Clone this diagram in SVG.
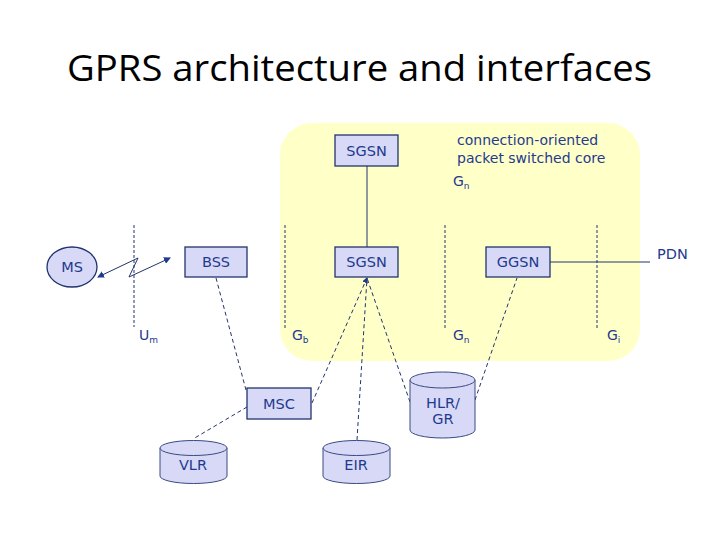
<svg xmlns="http://www.w3.org/2000/svg" width="720" height="540" viewBox="0 0 720 540">
<defs>
<style>
.title{font-family:"Open Sans","Liberation Sans",sans-serif;font-size:37px;fill:#000}
.lbl{font-family:"DejaVu Sans",Verdana,sans-serif;font-size:14px;fill:#1f3a8f}
.nm{font-size:14.5px}
.box{fill:#d8d9f6;stroke:#22336e;stroke-width:1.3}
.cyl{fill:#d8d9f6;stroke:#3a4a80;stroke-width:1}
.dash{stroke:#22336e;stroke-width:1;stroke-dasharray:4,3;fill:none}
.sep{stroke:#22336e;stroke-width:1;stroke-dasharray:3,2;fill:none}
.solid{stroke:#22336e;stroke-width:1;fill:none}
.sub{font-size:9px}
</style>
<marker id="ah" markerWidth="7" markerHeight="7" refX="6" refY="3.5" orient="auto" markerUnits="userSpaceOnUse">
<path d="M0,0 L7,3.5 L0,7 z" fill="#1f3a8f"/>
</marker>
<marker id="ahs" markerWidth="6" markerHeight="6" refX="5" refY="3" orient="auto" markerUnits="userSpaceOnUse">
<path d="M0,0 L6,3 L0,6 z" fill="#1f3a8f"/>
</marker>
</defs>
<rect width="720" height="540" fill="#fff"/>
<text class="title" x="67" y="81" textLength="585" lengthAdjust="spacingAndGlyphs">GPRS architecture and interfaces</text>

<g id="core">
<rect x="280" y="123" width="360" height="238" rx="32" fill="#ffffc8"/>
<text class="lbl" x="457" y="145">connection-oriented</text>
<text class="lbl" x="457" y="163">packet switched core</text>
</g>

<g id="separators">
<line class="sep" x1="134" y1="225" x2="134" y2="327"/>
<line class="sep" x1="285" y1="225" x2="285" y2="328"/>
<line class="sep" x1="445" y1="225" x2="445" y2="328"/>
<line class="sep" x1="597" y1="225" x2="597" y2="328"/>
<text class="lbl" x="139" y="340">U<tspan class="sub" dy="3">m</tspan></text>
<text class="lbl" x="292" y="340">G<tspan class="sub" dy="3">b</tspan></text>
<text class="lbl" x="453" y="340">G<tspan class="sub" dy="3">n</tspan></text>
<text class="lbl" x="607" y="340">G<tspan class="sub" dy="3">i</tspan></text>
<text class="lbl" x="453" y="186">G<tspan class="sub" dy="3">n</tspan></text>
</g>

<g id="connectors">
<line class="solid" x1="367" y1="166" x2="367" y2="247"/>
<line class="solid" x1="550" y1="262" x2="650" y2="262"/>
<polyline class="solid" points="138,258 129,277 170,258" marker-end="url(#ah)"/>
<line class="solid" x1="138" y1="258" x2="98" y2="277" marker-end="url(#ah)"/>
<line class="dash" x1="216" y1="278" x2="246" y2="390"/>
<line class="dash" x1="312" y1="403" x2="367" y2="278" marker-end="url(#ahs)"/>
<line class="dash" x1="357" y1="440" x2="367" y2="278"/>
<line class="dash" x1="410" y1="402" x2="367" y2="278"/>
<line class="dash" x1="475" y1="400" x2="517" y2="278"/>
<line class="dash" x1="247" y1="407" x2="193" y2="439"/>
</g>

<g id="MS">
<ellipse class="box" cx="72" cy="267" rx="25" ry="20"/>
<text class="lbl nm" x="72" y="272" text-anchor="middle">MS</text>
</g>
<g id="BSS">
<rect class="box" x="185" y="247" width="62" height="30"/>
<text class="lbl nm" x="216" y="267" text-anchor="middle">BSS</text>
</g>
<g id="SGSN1">
<rect class="box" x="335" y="135" width="63" height="31"/>
<text class="lbl nm" x="366.5" y="156" text-anchor="middle">SGSN</text>
</g>
<g id="SGSN2">
<rect class="box" x="335" y="247" width="63" height="30"/>
<text class="lbl nm" x="366.5" y="267" text-anchor="middle">SGSN</text>
</g>
<g id="GGSN">
<rect class="box" x="486" y="247" width="64" height="30"/>
<text class="lbl nm" x="518" y="267" text-anchor="middle">GGSN</text>
</g>
<g id="PDN">
<text class="lbl nm" x="657" y="259">PDN</text>
</g>
<g id="MSC">
<rect class="box" x="247" y="388" width="64" height="31"/>
<text class="lbl nm" x="279" y="409" text-anchor="middle">MSC</text>
</g>
<g id="HLR">
<path class="cyl" d="M410,380 L410,430 A32.5,8 0 0 0 475,430 L475,380 A32.5,8 0 0 0 410,380 Z"/>
<path class="cyl" d="M410,380 A32.5,8 0 0 0 475,380" fill="none"/>
<text class="lbl nm" x="443" y="408" text-anchor="middle">HLR/</text>
<text class="lbl nm" x="443" y="424" text-anchor="middle">GR</text>
</g>
<g id="VLR">
<path class="cyl" d="M160,448 L160,476 A33.5,7.5 0 0 0 227,476 L227,448 A33.5,7.5 0 0 0 160,448 Z"/>
<path class="cyl" d="M160,448 A33.5,7.5 0 0 0 227,448" fill="none"/>
<text class="lbl nm" x="193" y="470" text-anchor="middle">VLR</text>
</g>
<g id="EIR">
<path class="cyl" d="M323,448 L323,476 A33.5,7.5 0 0 0 390,476 L390,448 A33.5,7.5 0 0 0 323,448 Z"/>
<path class="cyl" d="M323,448 A33.5,7.5 0 0 0 390,448" fill="none"/>
<text class="lbl nm" x="356" y="470" text-anchor="middle">EIR</text>
</g>
</svg>
